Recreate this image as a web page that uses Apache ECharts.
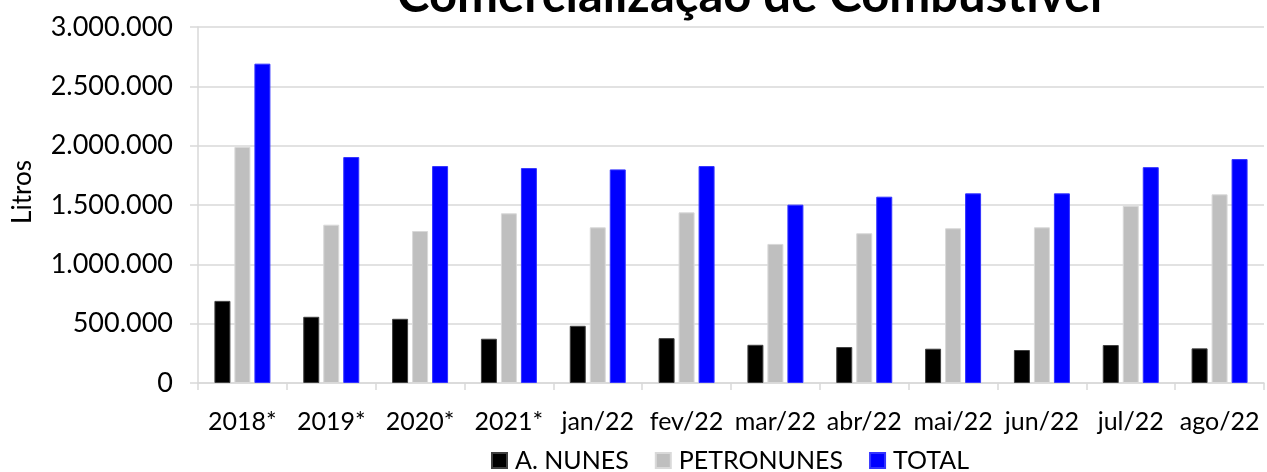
<!DOCTYPE html>
<html>
<head>
<meta charset="utf-8">
<script src="https://cdn.jsdelivr.net/npm/echarts@6/dist/echarts.min.js"></script>
<style>
  html, body { margin: 0; padding: 0; background: #fff; }
  #chart { width: 1267px; height: 472px; }
</style>
</head>
<body>
<div id="chart"></div>
<script>
const categories = ['2018*', '2019*', '2020*', '2021*', 'jan/22', 'fev/22', 'mar/22', 'abr/22', 'mai/22', 'jun/22', 'jul/22', 'ago/22']
const aNunes = [692000, 558000, 541000, 373000, 482000, 378000, 322000, 303000, 289000, 278000, 320000, 292000]
const petronunes = [1990000, 1334000, 1281000, 1430000, 1312000, 1438000, 1172000, 1262000, 1304000, 1312000, 1494000, 1590000]
const total = [2691000, 1904000, 1828000, 1811000, 1800000, 1828000, 1503000, 1570000, 1598000, 1598000, 1819000, 1887000]

const font = 'Lato, "Open Sans", sans-serif'

// 3.000.000 style
function fmt(v) {
  return String(v).replace(/\B(?=(\d{3})+(?!\d))/g, '.')
}

const chart = echarts.init(document.getElementById('chart'), null, { renderer: 'canvas' })

const barStyle = (color, border) => ({
  type: 'bar',
  barWidth: 16,
  barGap: '25%',
  itemStyle: { color: color, borderColor: border, borderWidth: 1 },
  animation: false
})

chart.setOption({
  textStyle: { fontFamily: font },
  title: {
    text: 'Comercialização de Combustível',
    left: 392,
    top: -33,
    textStyle: { fontFamily: font, fontSize: 49, fontWeight: 'bold', color: '#000' }
  },
  legend: {
    top: 443,
    left: 486,
    itemWidth: 15,
    itemHeight: 15,
    itemGap: 26,
    icon: 'rect',
    textStyle: { fontFamily: font, fontSize: 25, color: '#000', padding: [0, 0, 0, 3] },
    data: ['A. NUNES', 'PETRONUNES', 'TOTAL']
  },
  grid: { left: 198, right: 3, top: 27, bottom: 89, containLabel: false },
  xAxis: {
    type: 'category',
    data: categories,
    axisLine: { lineStyle: { color: '#d9d9d9', width: 1.5 } },
    axisTick: { show: true, length: 7, lineStyle: { color: '#d9d9d9', width: 1.5 } },
    axisLabel: { fontFamily: font, fontSize: 25, color: '#000', margin: 26, interval: 0 }
  },
  yAxis: {
    type: 'value',
    min: 0,
    max: 3000000,
    interval: 500000,
    name: 'Litros',
    nameLocation: 'middle',
    nameGap: 162,
    nameTextStyle: { fontFamily: font, fontSize: 26, color: '#000', padding: [0, 0, 0, 26] },
    axisLine: { show: true, lineStyle: { color: '#d9d9d9', width: 1.5 } },
    axisTick: { show: true, length: 8, lineStyle: { color: '#d9d9d9', width: 1.5 } },
    splitLine: { lineStyle: { color: '#d9d9d9', width: 1.5 } },
    axisLabel: { fontFamily: font, fontSize: 27, color: '#000', margin: 25, formatter: fmt }
  },
  series: [
    Object.assign(barStyle('#000000', '#404040'), { name: 'A. NUNES', data: aNunes }),
    Object.assign(barStyle('#bfbfbf', '#d9d9d9'), { name: 'PETRONUNES', data: petronunes }),
    Object.assign(barStyle('#0000ff', '#3333ff'), { name: 'TOTAL', data: total })
  ]
})
</script>
</body>
</html>
